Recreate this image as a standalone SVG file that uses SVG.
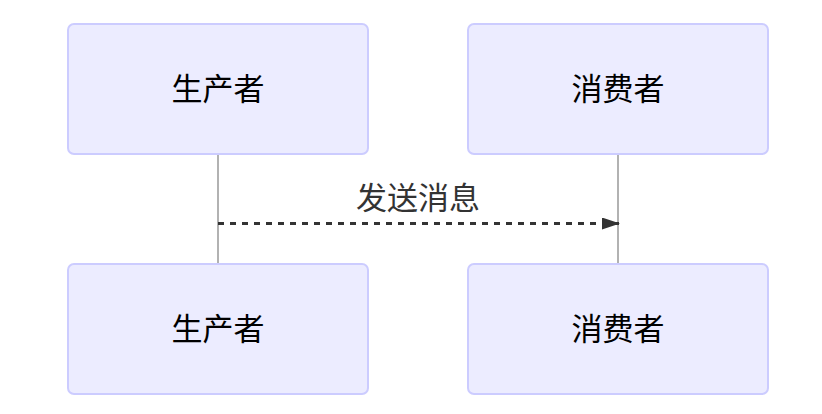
<svg xmlns="http://www.w3.org/2000/svg" width="822" height="414" viewBox="0 0 822 414">
<style>
.actor{fill:#ECECFF;stroke:#CCCCFF;stroke-width:2}
.lbl{font-family:"Liberation Sans","Noto Sans CJK SC",sans-serif;font-size:31px;fill:#000;text-anchor:middle;dominant-baseline:central}
.msg{font-family:"Liberation Sans","Noto Sans CJK SC",sans-serif;font-size:31px;fill:#333;text-anchor:middle}
.life{stroke:#999;stroke-width:1.5}
</style>
<defs>
<marker id="arrow" viewBox="0 0 18 12" refX="17" refY="6" markerWidth="18" markerHeight="12" markerUnits="userSpaceOnUse" orient="auto">
<path d="M0,0 L18,6 L0,12 z" fill="#333"/>
</marker>
</defs>
<rect width="822" height="414" fill="#fff"/>
<g id="connectors">
<line class="life" x1="218" y1="154" x2="218" y2="264"/>
<line class="life" x1="618" y1="154" x2="618" y2="264"/>
<line x1="218" y1="223.5" x2="619" y2="223.5" stroke="#333" stroke-width="3" stroke-dasharray="6,6" marker-end="url(#arrow)"/>
<text class="msg" x="418" y="209">发送消息</text>
</g>
<g id="producer-top">
<rect class="actor" x="68" y="24" width="300" height="130" rx="6"/>
<text class="lbl" x="218" y="89">生产者</text>
</g>
<g id="consumer-top">
<rect class="actor" x="468" y="24" width="300" height="130" rx="6"/>
<text class="lbl" x="618" y="89">消费者</text>
</g>
<g id="producer-bottom">
<rect class="actor" x="68" y="264" width="300" height="130" rx="6"/>
<text class="lbl" x="218" y="329">生产者</text>
</g>
<g id="consumer-bottom">
<rect class="actor" x="468" y="264" width="300" height="130" rx="6"/>
<text class="lbl" x="618" y="329">消费者</text>
</g>
</svg>
